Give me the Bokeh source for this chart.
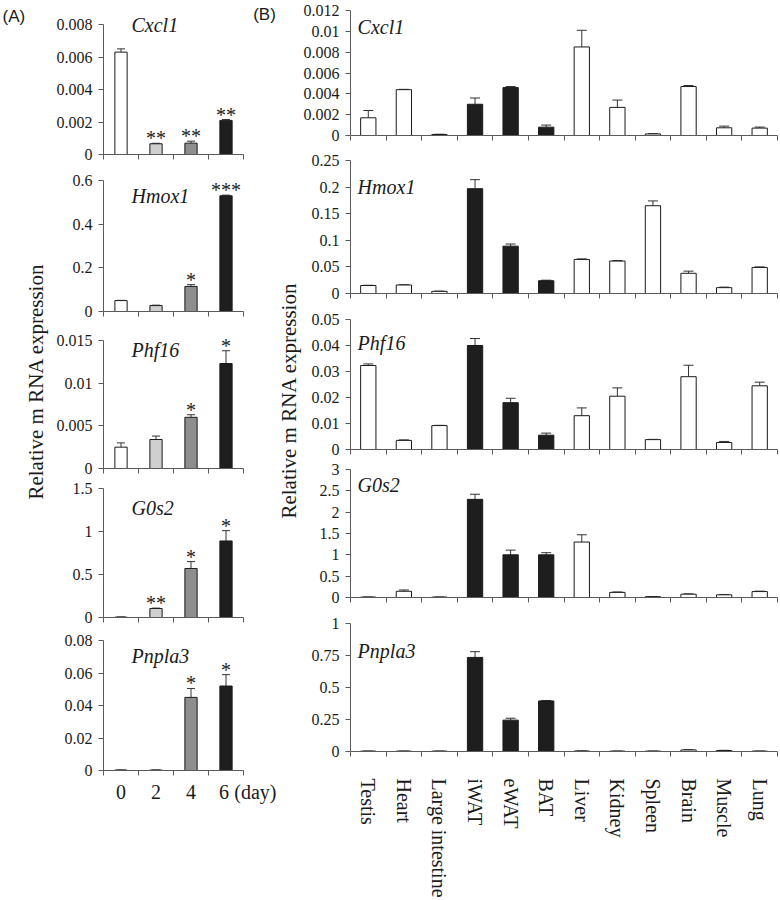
import math
from bokeh.plotting import figure
from bokeh.layouts import row, column
from bokeh.models import (ColumnDataSource, Whisker, TeeHead, Label, FixedTicker,
                          Range1d, LinearAxis, CustomJSTickFormatter)
from bokeh.core.properties import value
from bokeh.embed import file_html
from bokeh.resources import INLINE

# ---------------- data: panel A (days of differentiation) ----------------
days = ["0", "2", "4", "6"]
day_unit = "(day)"

a_cxcl1 = [0.0063, 0.00066, 0.0007, 0.0021]
a_cxcl1_err = [0.0002, 0.00003, 0.00012, 0.00005]
a_cxcl1_sig = ["", "**", "**", "**"]

a_hmox1 = [0.05, 0.027, 0.115, 0.53]
a_hmox1_err = [0.001, 0.002, 0.008, 0.003]
a_hmox1_sig = ["", "", "*", "***"]

a_phf16 = [0.0025, 0.0034, 0.006, 0.0123]
a_phf16_err = [0.0005, 0.0004, 0.0003, 0.0015]
a_phf16_sig = ["", "", "*", "*"]

a_g0s2 = [0.005, 0.105, 0.57, 0.89]
a_g0s2_err = [0.001, 0.004, 0.08, 0.12]
a_g0s2_sig = ["", "**", "*", "*"]

a_pnpla3 = [0.0003, 0.0003, 0.045, 0.052]
a_pnpla3_err = [0.0, 0.0, 0.0055, 0.007]
a_pnpla3_sig = ["", "", "*", "*"]

a_ticks_cxcl1 = [0, 0.002, 0.004, 0.006, 0.008]
a_labels_cxcl1 = ["0", "0.002", "0.004", "0.006", "0.008"]
a_ticks_hmox1 = [0, 0.2, 0.4, 0.6]
a_labels_hmox1 = ["0", "0.2", "0.4", "0.6"]
a_ticks_phf16 = [0, 0.005, 0.01, 0.015]
a_labels_phf16 = ["0", "0.005", "0.01", "0.015"]
a_ticks_g0s2 = [0, 0.5, 1, 1.5]
a_labels_g0s2 = ["0", "0.5", "1", "1.5"]
a_ticks_pnpla3 = [0, 0.02, 0.04, 0.06, 0.08]
a_labels_pnpla3 = ["0", "0.02", "0.04", "0.06", "0.08"]

# ---------------- data: panel B (tissues) ----------------
tissues = ["Testis", "Heart", "Large intestine", "iWAT", "eWAT", "BAT",
           "Liver", "Kidney", "Spleen", "Brain", "Muscle", "Lung"]
adipose = [False, False, False, True, True, True,
           False, False, False, False, False, False]

b_cxcl1 = [0.0017, 0.0044, 0.0001, 0.003, 0.0046, 0.0008,
           0.0085, 0.0027, 0.00015, 0.0047, 0.00074, 0.00071]
b_cxcl1_err = [0.0007, 0.00003, 0.00002, 0.0006, 0.0001, 0.0002,
               0.0016, 0.0007, 0.00002, 0.0001, 0.00016, 0.0001]

b_hmox1 = [0.015, 0.016, 0.004, 0.197, 0.089, 0.024,
           0.064, 0.061, 0.165, 0.038, 0.011, 0.049]
b_hmox1_err = [0.0005, 0.0005, 0.0005, 0.017, 0.004, 0.001,
               0.001, 0.001, 0.009, 0.004, 0.001, 0.001]

b_phf16 = [0.0323, 0.0035, 0.0092, 0.040, 0.018, 0.0055,
           0.013, 0.0205, 0.0038, 0.028, 0.0027, 0.0245]
b_phf16_err = [0.0006, 0.0002, 0.0001, 0.0027, 0.0017, 0.0008,
               0.003, 0.0032, 0.0001, 0.0044, 0.0004, 0.0014]

b_g0s2 = [0.01, 0.146, 0.01, 2.3, 1.0, 1.0,
          1.3, 0.12, 0.02, 0.077, 0.063, 0.139]
b_g0s2_err = [0.002, 0.03, 0.002, 0.12, 0.11, 0.05,
              0.17, 0.01, 0.003, 0.008, 0.008, 0.01]

b_pnpla3 = [0.003, 0.003, 0.003, 0.735, 0.245, 0.395,
            0.004, 0.003, 0.003, 0.012, 0.008, 0.003]
b_pnpla3_err = [0.0005, 0.0005, 0.0005, 0.045, 0.015, 0.003,
                0.0005, 0.0005, 0.0005, 0.002, 0.001, 0.0005]

b_ticks_cxcl1 = [0, 0.002, 0.004, 0.006, 0.008, 0.01, 0.012]
b_labels_cxcl1 = ["0", "0.002", "0.004", "0.006", "0.008", "0.01", "0.012"]
b_ticks_hmox1 = [0, 0.05, 0.1, 0.15, 0.2, 0.25]
b_labels_hmox1 = ["0", "0.05", "0.1", "0.15", "0.2", "0.25"]
b_ticks_phf16 = [0, 0.01, 0.02, 0.03, 0.04, 0.05]
b_labels_phf16 = ["0", "0.01", "0.02", "0.03", "0.04", "0.05"]
b_ticks_g0s2 = [0, 0.5, 1, 1.5, 2, 2.5, 3]
b_labels_g0s2 = ["0", "0.5", "1", "1.5", "2", "2.5", "3"]
b_ticks_pnpla3 = [0, 0.25, 0.5, 0.75, 1]
b_labels_pnpla3 = ["0", "0.25", "0.5", "0.75", "1"]

y_label = "Relative m RNA expression"

# ---------------- styles ----------------
SERIF = "Liberation Serif"
SANS = "Liberation Sans"
AX = "#5a5a5a"
INK = "#1a1a1a"
day_fills = ["#ffffff", "#cfcfcf", "#8e8e8e", "#1e1e1e"]
b_fills = ["#1e1e1e" if a else "#ffffff" for a in adipose]


def make_panel(cats, vals, errs, sig, fills, ticks, tick_labels, title, geo,
               fw, x_end, right, bar_w, cap, title_x, title_frac, show_x=None):
    n = len(cats)
    ymax = ticks[-1]
    fh_total = geo["top"] + geo["fh"]
    y_end = ymax * fh_total / geo["fh"]
    p = figure(frame_width=fw, frame_height=fh_total,
               min_border_left=geo["left"], min_border_right=right,
               min_border_top=0, min_border_bottom=geo["bot"],
               x_range=Range1d(0, x_end), y_range=Range1d(0, y_end),
               toolbar_location=None, tools="", output_backend="svg", title=None)
    p.outline_line_color = None
    p.xgrid.visible = False
    p.ygrid.visible = False
    p.background_fill_color = "white"
    p.border_fill_color = "white"

    xs = [i + 0.5 for i in range(n)]
    src = ColumnDataSource(dict(x=xs, top=vals, up=[v + e for v, e in zip(vals, errs)],
                                fill=fills, sig=sig))
    p.vbar(x="x", top="top", bottom=0, width=bar_w, fill_color="fill",
           line_color=INK, line_width=1, source=src)
    p.add_layout(Whisker(source=src, base="x", lower="top", upper="up",
                         line_color="#333333", line_width=1,
                         upper_head=TeeHead(size=cap, line_color="#333333", line_width=1),
                         lower_head=None))
    if any(s for s in sig):
        p.text(x="x", y="up", text="sig", source=src, text_align="center",
               text_baseline="alphabetic", y_offset=-5,
               text_font=value(SERIF), text_font_size="20px", text_color="#222222")

    p.add_layout(Label(x=title_x, y=ymax * (1 - title_frac), text=title,
                       text_font=SERIF, text_font_style="italic",
                       text_font_size="20px", text_baseline="middle",
                       text_align="left", text_color=INK))

    yax = p.yaxis[0]
    yax.bounds = (0, ymax)
    yax.ticker = FixedTicker(ticks=ticks)
    yax.formatter = CustomJSTickFormatter(code="return tick.toString()")
    yax.major_label_overrides = {float(t): l for t, l in zip(ticks, tick_labels)}
    yax.major_tick_out = 5
    yax.major_tick_in = 0
    yax.minor_tick_out = 0
    yax.minor_tick_in = 0
    yax.major_label_standoff = 6
    yax.major_label_text_font = SERIF
    yax.major_label_text_font_size = "16px"
    yax.major_label_text_color = INK
    yax.axis_line_color = AX
    yax.major_tick_line_color = AX

    xax = p.xaxis[0]
    xax.bounds = (0, n)
    xax.axis_line_color = AX
    xax.minor_tick_line_color = AX
    xax.minor_tick_out = 5
    xax.minor_tick_in = 0
    xax.major_tick_out = 0
    xax.major_tick_in = 0
    xax.major_tick_line_color = None
    if show_x is None:
        xax.ticker = FixedTicker(ticks=[], minor_ticks=list(range(n + 1)))
        xax.major_label_standoff = 0
    elif show_x.get("vertical"):
        xax.ticker = FixedTicker(ticks=xs, minor_ticks=list(range(n + 1)))
        xax.major_label_overrides = {x: c for x, c in zip(xs, cats)}
        xax.major_label_text_font = SERIF
        xax.major_label_text_font_size = "20px"
        xax.major_label_text_color = INK
        xax.major_label_standoff = show_x["standoff"]
        xax.major_label_orientation = "vertical"
    else:
        # boundary ticks on the axis line, labels on a line-less axis below it
        xax.ticker = FixedTicker(ticks=[], minor_ticks=list(range(n + 1)))
        xax.major_label_standoff = 0
        pos = show_x["pos"]
        lab = LinearAxis(ticker=FixedTicker(ticks=pos),
                         major_label_overrides={x: c for x, c in zip(pos, show_x["labels"])},
                         axis_line_color=None, major_tick_line_color=None,
                         minor_tick_line_color=None, major_tick_out=0, major_tick_in=0,
                         minor_tick_out=0, minor_tick_in=0,
                         major_label_standoff=show_x["standoff"],
                         major_label_text_font=SERIF, major_label_text_font_size="20px",
                         major_label_text_color=INK)
        p.add_layout(lab, "below")
    return p


def text_fig(w, h):
    p = figure(width=w, height=h, x_range=Range1d(0, w), y_range=Range1d(h, 0),
               min_border=0, toolbar_location=None, tools="", output_backend="svg",
               title=None, x_axis_location=None, y_axis_location=None)
    p.outline_line_color = None
    p.xgrid.visible = False
    p.ygrid.visible = False
    return p


# ---------------- panel A ----------------
GEO_A = [dict(top=24, fh=130, bot=13, left=53),
         dict(top=13, fh=131, bot=13, left=53),
         dict(top=16, fh=128, bot=10, left=53),
         dict(top=10, fh=129, bot=11, left=53),
         dict(top=12, fh=130, bot=40, left=53)]
A_TITLE_FRAC = [0.0, 0.115, 0.078, 0.155, 0.123]
A_FW, A_XEND = 172, 172 / 35.0

a_specs = [
    (a_cxcl1, a_cxcl1_err, a_cxcl1_sig, a_ticks_cxcl1, a_labels_cxcl1, "Cxcl1"),
    (a_hmox1, a_hmox1_err, a_hmox1_sig, a_ticks_hmox1, a_labels_hmox1, "Hmox1"),
    (a_phf16, a_phf16_err, a_phf16_sig, a_ticks_phf16, a_labels_phf16, "Phf16"),
    (a_g0s2, a_g0s2_err, a_g0s2_sig, a_ticks_g0s2, a_labels_g0s2, "G0s2"),
    (a_pnpla3, a_pnpla3_err, a_pnpla3_sig, a_ticks_pnpla3, a_labels_pnpla3, "Pnpla3"),
]
a_figs = []
for i, (v, e, s, t, tl, name) in enumerate(a_specs):
    show = None
    if i == 4:
        show = dict(pos=[0.5, 1.5, 2.5, 3.44, 4.34], labels=days + [day_unit], standoff=5)
    a_figs.append(make_panel(days, v, e, s, day_fills, t, tl, name, GEO_A[i],
                             fw=A_FW, x_end=A_XEND, right=1, bar_w=0.35, cap=8,
                             title_x=0.8, title_frac=A_TITLE_FRAC[i], show_x=show))

# "(B)" panel tag (sits in the top-right corner of the first A panel's frame)
a_figs[0].add_layout(Label(x=4.6, y=0.00862, text="(B)", text_font=SANS,
                           text_font_size="17px", text_align="center",
                           text_baseline="middle", text_color=INK))

# ---------------- panel B ----------------
GEO_B = [dict(top=10, fh=125, bot=12, left=74),
         dict(top=13, fh=133, bot=13, left=46),
         dict(top=13, fh=130, bot=10, left=46),
         dict(top=10, fh=128, bot=13, left=46),
         dict(top=13, fh=128, bot=146, left=74)]
B_TITLE_FRAC = [0.13, 0.203, 0.177, 0.123, 0.211]

b_specs = [
    (b_cxcl1, b_cxcl1_err, b_ticks_cxcl1, b_labels_cxcl1, "Cxcl1"),
    (b_hmox1, b_hmox1_err, b_ticks_hmox1, b_labels_hmox1, "Hmox1"),
    (b_phf16, b_phf16_err, b_ticks_phf16, b_labels_phf16, "Phf16"),
    (b_g0s2, b_g0s2_err, b_ticks_g0s2, b_labels_g0s2, "G0s2"),
    (b_pnpla3, b_pnpla3_err, b_ticks_pnpla3, b_labels_pnpla3, "Pnpla3"),
]
b_figs = []
for i, (v, e, t, tl, name) in enumerate(b_specs):
    show = dict(standoff=22, vertical=True) if i == 4 else None
    b_figs.append(make_panel(tissues, v, e, [""] * len(tissues), b_fills, t, tl, name,
                             GEO_B[i], fw=427, x_end=len(tissues), right=2, bar_w=0.43,
                             cap=10, title_x=0.2, title_frac=B_TITLE_FRAC[i], show_x=show))

# ---------------- side label strips ----------------
figL1 = text_fig(50, 810)
figL1.add_layout(Label(x=2, y=16, text="(A)", text_font=SANS, text_font_size="17px",
                       text_align="left", text_baseline="middle", text_color=INK))
figL1.add_layout(Label(x=35, y=381, text=y_label, angle=math.pi / 2,
                       text_font=SERIF, text_font_size="21px", text_align="center",
                       text_baseline="middle", text_color=INK))

figL2 = text_fig(28, 463)
figL2.add_layout(Label(x=12.5, y=400 - 147, text=y_label, angle=math.pi / 2,
                       text_font=SERIF, text_font_size="21px", text_align="center",
                       text_baseline="middle", text_color=INK))

colA = column(*a_figs, spacing=0)
midB = row(figL2, column(b_figs[1], b_figs[2], b_figs[3], spacing=0), spacing=0)
colB = column(b_figs[0], midB, b_figs[4], spacing=0)
layout = row(figL1, colA, colB, spacing=0)

open("out.html", "w").write(file_html(layout, INLINE))
